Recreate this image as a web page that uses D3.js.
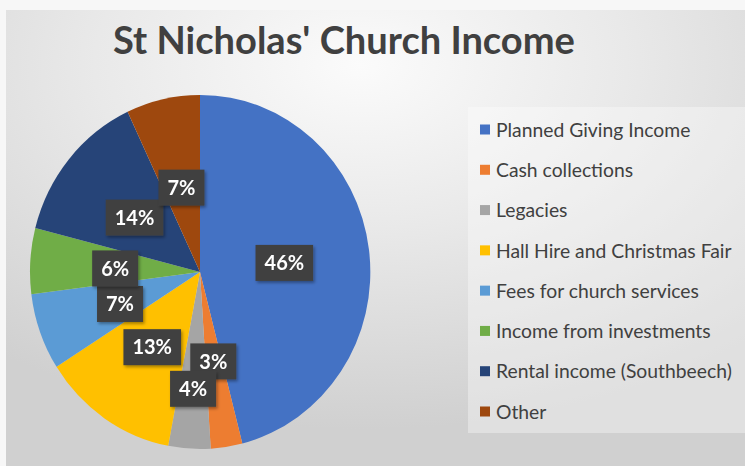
<!DOCTYPE html>
<html>
<head>
<meta charset="utf-8">
<script src="https://cdn.jsdelivr.net/npm/d3@7"></script>
<style>
  html, body { margin: 0; padding: 0; background: #f7f7f7; }
  svg { display: block; font-family: Lato, "Open Sans", sans-serif; }
</style>
</head>
<body>
<div id="chart"></div>
<script>
// data (percent of total income)
var categories = [
    "Planned Giving Income",
    "Cash collections",
    "Legacies",
    "Hall Hire and Christmas Fair",
    "Fees for church services",
    "Income from investments",
    "Rental income (Southbeech)",
    "Other"
];
var values = [46, 3, 4, 13, 7, 6, 14, 7];
var colors = ["#4472C4", "#ED7D31", "#A5A5A5", "#FFC000", "#5B9BD5", "#70AD47", "#264478", "#9E480E"];
var title = "St Nicholas' Church Income";

var width = 745, height = 466;

var svg = d3.select("#chart").append("svg")
    .attr("width", width)
    .attr("height", height);

var defs = svg.append("defs");
var grad = defs.append("radialGradient")
    .attr("id", "bg")
    .attr("cx", "48%").attr("cy", "12%").attr("r", "80%");
grad.append("stop").attr("offset", "0%").attr("stop-color", "#fbfbfb");
grad.append("stop").attr("offset", "45%").attr("stop-color", "#e9e9e9");
grad.append("stop").attr("offset", "100%").attr("stop-color", "#d0d0d0");

var shadow = defs.append("filter").attr("id", "shadow")
    .attr("x", "-30%").attr("y", "-30%").attr("width", "160%").attr("height", "160%");
shadow.append("feDropShadow")
    .attr("dx", 1.5).attr("dy", 2).attr("stdDeviation", 1.5)
    .attr("flood-color", "#000").attr("flood-opacity", 0.35);

// chart area
svg.append("rect")
    .attr("x", 6).attr("y", 10)
    .attr("width", width - 6).attr("height", height - 10)
    .attr("fill", "url(#bg)");

// title, fitted to the width it has in the picture
var titleText = svg.append("text")
    .attr("x", 344).attr("y", 54)
    .attr("text-anchor", "middle")
    .attr("font-weight", "bold")
    .attr("font-size", 33)
    .attr("fill", "#404040")
    .text(title);
var tw = titleText.node().getComputedTextLength();
titleText.attr("font-size", 33 * 462 / tw);

// pie (slightly taller than wide, like the reference)
var cx = 200, cy = 272, rx = 170, ry = 177;
var pie = d3.pie().sort(null).value(function(d) { return d; });
var arcs = pie(values);
var arc = d3.arc().innerRadius(0).outerRadius(1);

var pieG = svg.append("g")
    .attr("transform", "translate(" + cx + "," + cy + ") scale(" + rx + "," + ry + ")");
pieG.selectAll("path")
    .data(arcs)
    .enter().append("path")
    .attr("d", arc)
    .attr("fill", function(d, i) { return colors[i]; });

// data labels: start at half radius, push small slices outward if they collide
var fmt = d3.format(".0%");
var total = d3.sum(values);
var labelG = svg.append("g");
var placed = [];
var boxH = 36, padX = 9;

arcs.forEach(function(d, i) {
    var g = labelG.append("g").attr("filter", "url(#shadow)");
    var rect = g.append("rect").attr("fill", "#404040");
    var t = g.append("text")
        .attr("text-anchor", "middle")
        .attr("dy", "0.36em")
        .attr("font-weight", "bold")
        .attr("font-size", 20)
        .attr("fill", "#ffffff")
        .text(fmt(d.data / total));
    var w = t.node().getComputedTextLength() + 2 * padX;
    var mid = (d.startAngle + d.endAngle) / 2;
    var k = 0.5, x, y;
    function pos() {
        x = cx + Math.sin(mid) * rx * k;
        y = cy + 2 - Math.cos(mid) * ry * k;
    }
    function hits() {
        return placed.some(function(p) {
            return Math.abs(p.x - x) < (p.w + w) / 2 - 8 &&
                   Math.abs(p.y - y) < boxH - 9;
        });
    }
    pos();
    while (hits() && k < 0.95) { k += 0.01; pos(); }
    placed.push({x: x, y: y, w: w});
    rect.attr("x", x - w / 2).attr("y", y - boxH / 2)
        .attr("width", w).attr("height", boxH);
    t.attr("x", x).attr("y", y);
});

// legend
svg.append("rect")
    .attr("x", 468).attr("y", 107)
    .attr("width", width - 468).attr("height", 326)
    .attr("fill", "#ffffff").attr("fill-opacity", 0.35);

var legend = svg.append("g");
var rowY = d3.scalePoint().domain(categories).range([130, 412]);
var items = legend.selectAll("g")
    .data(categories)
    .enter().append("g")
    .attr("transform", function(d) { return "translate(480," + rowY(d) + ")"; });
items.append("rect")
    .attr("x", 0).attr("y", -5.5)
    .attr("width", 10).attr("height", 10)
    .attr("fill", function(d, i) { return colors[i]; });
var labels = items.append("text")
    .attr("x", 16).attr("dy", "0.35em")
    .attr("font-size", 17)
    .attr("fill", "#404040")
    .text(function(d) { return d; });
var longest = d3.max(labels.nodes(), function(n) { return n.getComputedTextLength(); });
labels.attr("font-size", 17 * 236 / longest);
</script>
</body>
</html>
